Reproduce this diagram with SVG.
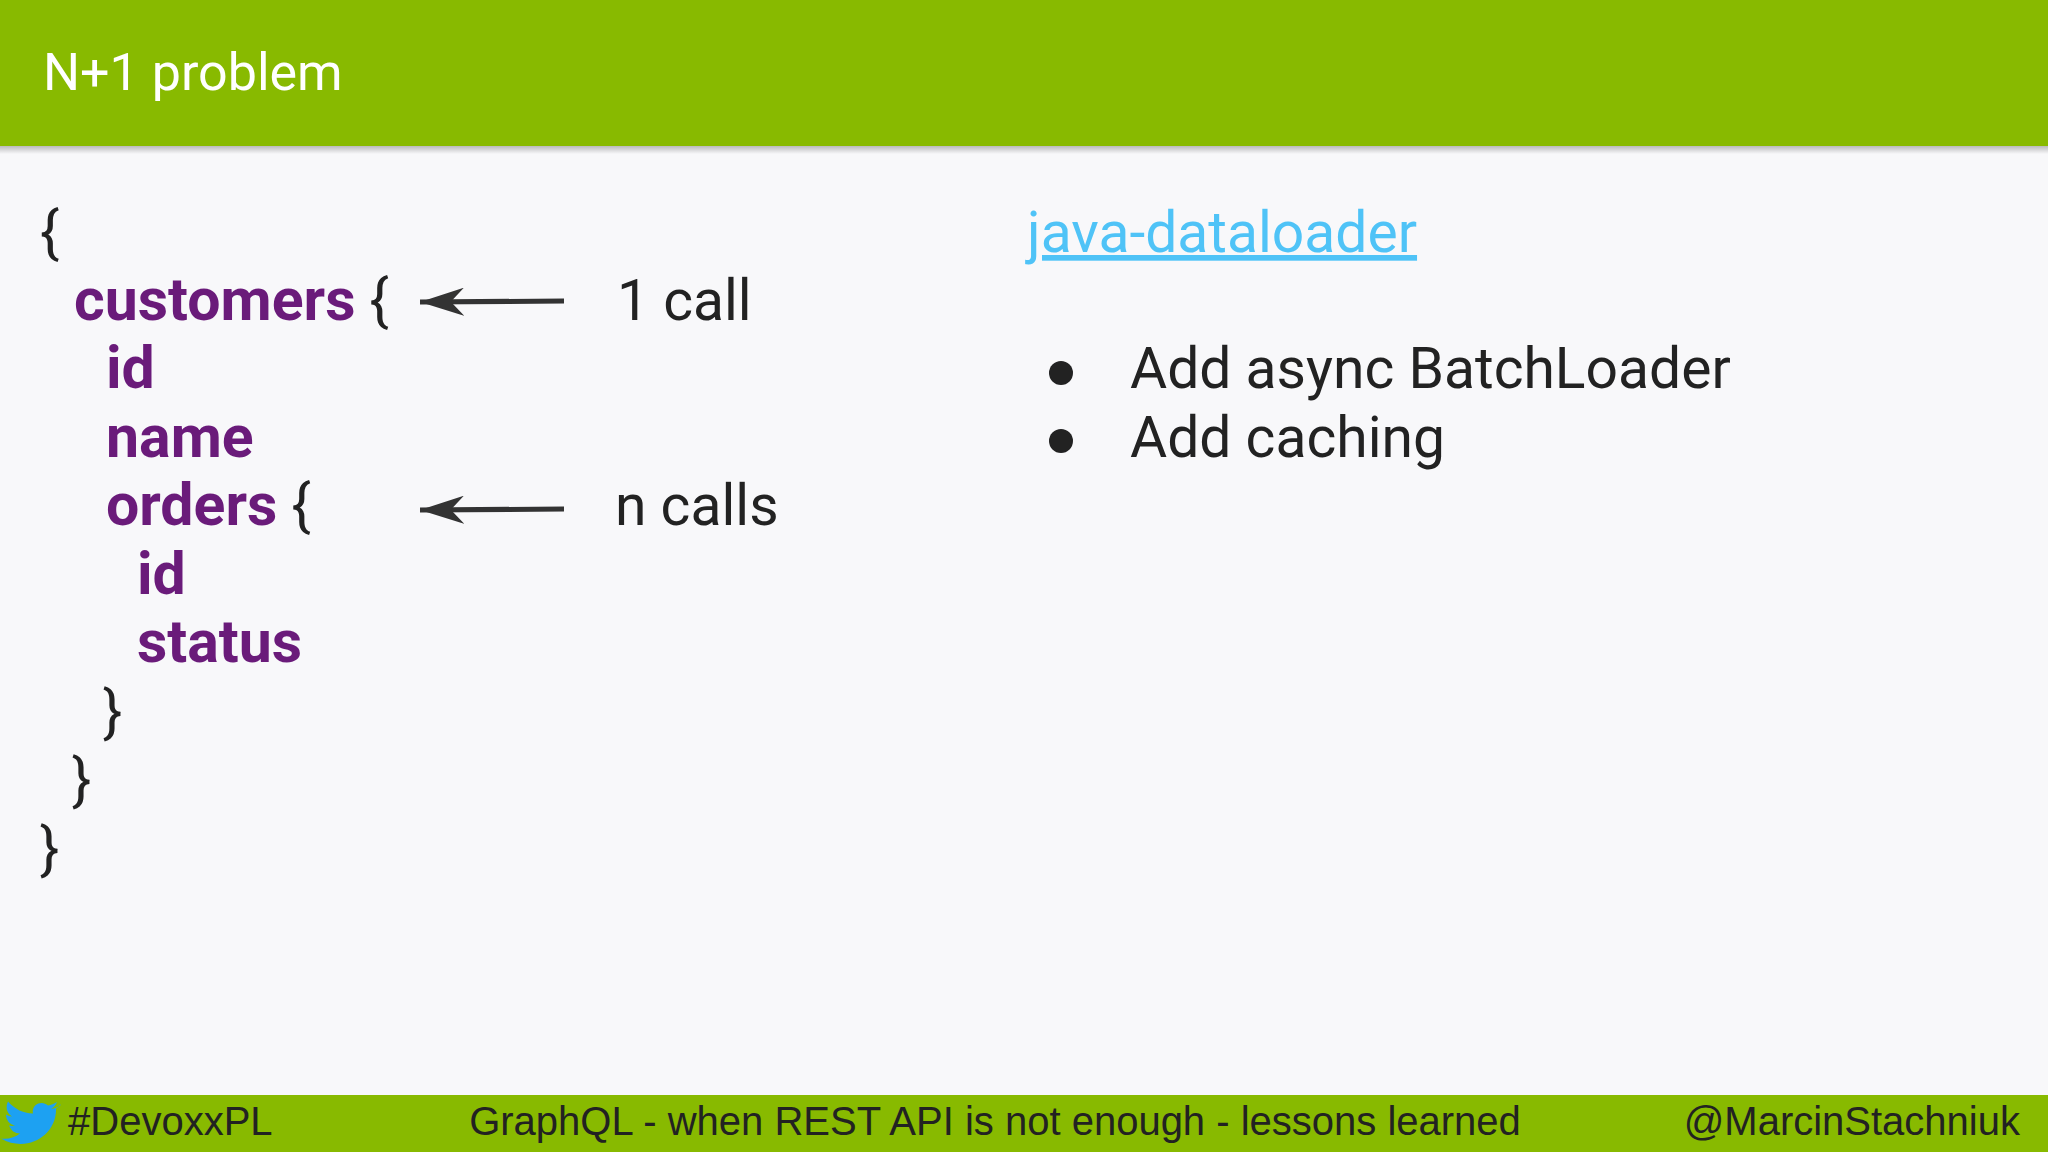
<svg xmlns="http://www.w3.org/2000/svg" width="2048" height="1152" viewBox="0 0 2048 1152">
<defs>
<style>
text{font-family:Roboto,"Liberation Sans",sans-serif}
.code{font-size:59px;font-weight:bold;fill:#6a1b7a}
.br{font-size:57px;fill:#222}
.lbl{font-size:57px;fill:#222}
.foot{font-size:40px;fill:#222;font-family:"Liberation Sans",Arial,sans-serif}
</style>
<linearGradient id="sh" x1="0" y1="0" x2="0" y2="1"><stop offset="0" stop-color="#000" stop-opacity="0.25"/><stop offset="1" stop-color="#000" stop-opacity="0"/></linearGradient>
<marker id="ah" viewBox="0 0 10 10" refX="10" refY="5" markerWidth="44" markerHeight="28" markerUnits="userSpaceOnUse" preserveAspectRatio="none" orient="auto"><path d="M10,5 L0,0 L3,5 L0,10 Z" fill="#333"/></marker>
</defs>
<rect width="2048" height="1152" fill="#f8f8fa"/>
<g id="header"><rect width="2048" height="146" fill="#88ba00"/><rect y="146" width="2048" height="8" fill="url(#sh)"/>
<text x="43" y="90" font-size="52" fill="#fff">N+1 problem</text></g>
<g id="code">
<text class="br" x="40" y="252">{</text>
<text x="74" y="320"><tspan class="code">customers</tspan><tspan class="br"> {</tspan></text>
<text class="code" x="106" y="388">id</text>
<text class="code" x="106" y="457">name</text>
<text x="106" y="525"><tspan class="code">orders</tspan><tspan class="br"> {</tspan></text>
<text class="code" x="137" y="594">id</text>
<text class="code" x="137" y="662">status</text>
<text class="br" x="103" y="731">}</text>
<text class="br" x="72" y="799">}</text>
<text class="br" x="40" y="868">}</text>
</g>
<g id="connectors" stroke="#333" stroke-width="5" fill="none">
<line x1="564" y1="301" x2="420" y2="302" marker-end="url(#ah)"/>
<line x1="564" y1="509" x2="420" y2="510" marker-end="url(#ah)"/>
</g>
<g id="labels">
<text class="lbl" x="617" y="320">1 call</text>
<text class="lbl" x="615" y="525">n calls</text>
</g>
<g id="right">
<text x="1027" y="252" font-size="57" fill="#4fc3f7" text-decoration="underline">java-dataloader</text>
<circle cx="1061" cy="373" r="12" fill="#222"/>
<circle cx="1061" cy="441" r="12" fill="#222"/>
<text class="lbl" x="1130" y="388">Add async BatchLoader</text>
<text class="lbl" x="1130" y="457">Add caching</text>
</g>
<g id="footer"><rect y="1095" width="2048" height="57" fill="#88ba00"/>
<path d="M60,1106 c-3,1.5 -6,2.5 -9,3 c3,-2 5,-4 6,-7 c-3,2 -6,3 -9,3.5 c-6,-6 -17,-1 -15,8 c-10,0 -19,-5 -25,-12 c-3,6 -1,12 4,15 c-2,0 -4,-1 -6,-2 c0,6 4,10 9,11 c-2,0.5 -4,0.5 -6,0 c2,5 6,8 11,8 c-5,4 -12,6 -19,5 c26,15 56,-3 55,-30 c3,-2 4,-3 5,-5z" fill="#1da1f2"/>
<text class="foot" x="68" y="1135">#DevoxxPL</text>
<text class="foot" x="995" y="1135" text-anchor="middle">GraphQL - when REST API is not enough - lessons learned</text>
<text class="foot" x="2020" y="1135" text-anchor="end">@MarcinStachniuk</text></g>
</svg>
